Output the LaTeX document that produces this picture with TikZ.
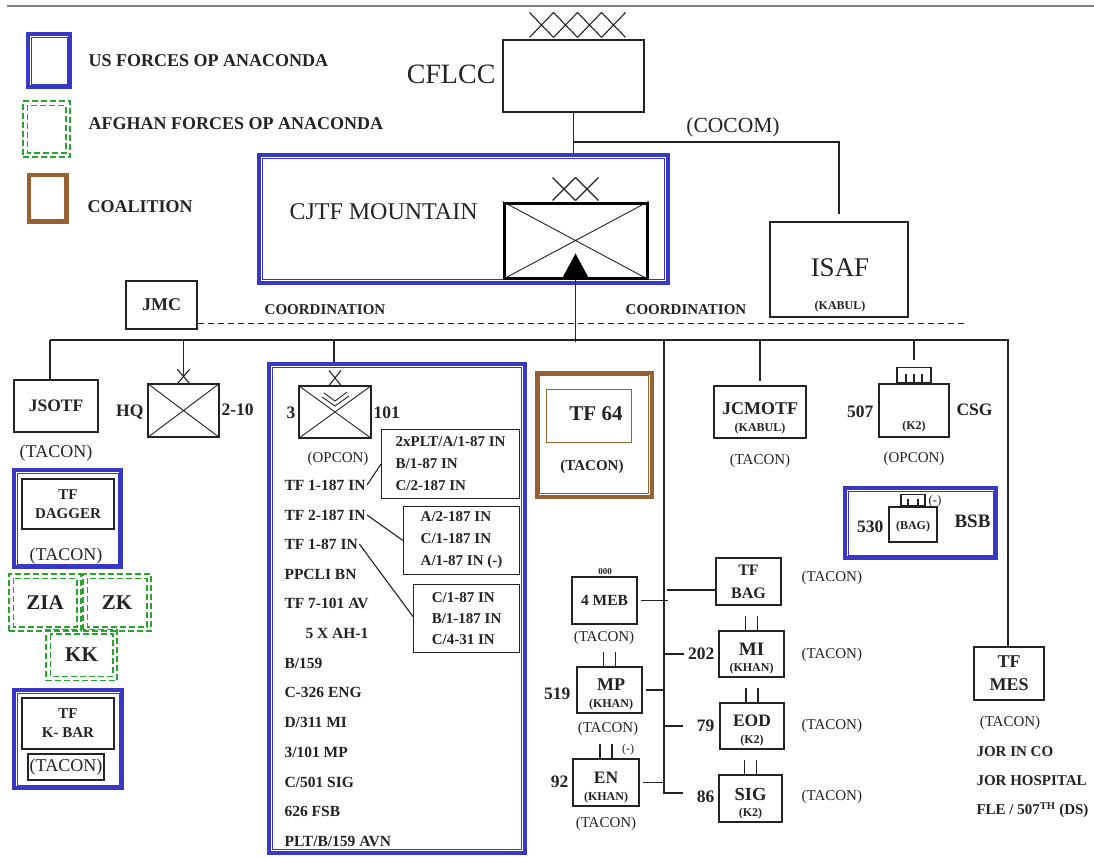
\documentclass[tikz,border=0pt]{standalone}
\usepackage{fontspec}
\setmainfont{Liberation Serif}
\usetikzlibrary{calc}
\definecolor{usblue}{RGB}{55,55,200}
\definecolor{afgreen}{RGB}{40,165,45}
\definecolor{cobrown}{RGB}{150,98,50}
\definecolor{ln}{RGB}{35,35,35}
\newcommand\fsz[2]{\fontsize{#1}{#2}\selectfont}
\newcommand\innerfr[3]{\draw[#1] ([shift={(#3,#3)}]#2.north west) rectangle ([shift={(-#3,-#3)}]#2.south east);}
\newcommand\xcross[1]{\draw[line width=0.9pt] (#1.north west) -- (#1.south east) (#1.south west) -- (#1.north east);}
\newcommand\ticks[1]{\draw ([xshift=-6pt]#1.north) -- ++(0,-14) ([xshift=6pt]#1.north) -- ++(0,-14);}
\tikzset{
  box/.style={draw=ln, line width=1.1pt, inner sep=0pt, align=center},
  usframe/.style={draw=usblue, line width=4.4pt, inner sep=0pt},
  afframe/.style={draw=afgreen, line width=1.5pt, dash pattern=on 6pt off 3pt, inner sep=0pt},
  coframe/.style={draw=cobrown, line width=4pt, inner sep=0pt},
  usin/.style={draw=usblue, line width=1pt},
  afin/.style={draw=afgreen, line width=1.5pt, dash pattern=on 6pt off 3pt},
  coin/.style={draw=cobrown, line width=1.2pt},
  legt/.style={inner sep=1pt, font=\bfseries\fsz{18}{20}},
  lab/.style={inner sep=1pt, font=\bfseries\fsz{15.5}{18}},
  num/.style={inner sep=1pt, font=\bfseries\fsz{17.5}{20}},
  big/.style={inner sep=1pt, font=\bfseries\fsz{19}{21}},
  sm/.style={inner sep=1pt, font=\bfseries\fsz{12}{14}},
  tac/.style={inner sep=1pt, font=\fsz{15}{17}},
  tacl/.style={inner sep=1pt, font=\fsz{18}{20}},
  wire/.style={draw=ln, line width=1.1pt}
}
\begin{document}
\begin{tikzpicture}[x=1pt,y=-1pt,line width=1.1pt,color=ln]
\useasboundingbox (0,0) rectangle (1094,857);
% top rule
\draw[line width=1.2pt, gray] (7,6) -- (1094,6);
% ---------------- legend
\node[usframe, minimum width=42, minimum height=53] (lgus) at (49,60.5) {};
\innerfr{usin}{lgus}{5.2}
\node[legt, anchor=west] (lgust) at (87,61) {US FORCES OP ANACONDA};
\node[afframe, minimum width=47, minimum height=56] (lgaf) at (46.5,129) {};
\innerfr{afin}{lgaf}{5}
\node[legt, anchor=west] (lgaft) at (87,124) {AFGHAN FORCES OP ANACONDA};
\node[coframe, minimum width=38, minimum height=47] (lgco) at (47.5,198) {};
\innerfr{coin}{lgco}{4}
\node[legt, anchor=west] (lgcot) at (86,207) {COALITION};
% ---------------- CFLCC
\node[box, minimum width=141, minimum height=72] (cflcc) at (573.5,76) {};
\foreach \i in {0,...,3} {
  \draw ($(cflcc.north)+(-44+24*\i,-2)$) -- ++(24,-25);
  \draw ($(cflcc.north)+(-44+24*\i,-27)$) -- ++(24,25);
}
\node[inner sep=1pt, font=\fsz{28}{30}, anchor=east] (cflcct) at (497,74) {CFLCC};
% ---------------- CJTF MOUNTAIN
\node[usframe, minimum width=409, minimum height=128] (cjtf) at (463.5,219) {};
\innerfr{usin}{cjtf}{5.5}
\node[inner sep=1pt, font=\fsz{24}{26}, anchor=west] (cjtft) at (288,212) {CJTF MOUNTAIN};
\node[draw=black, line width=3pt, minimum width=143, minimum height=75, inner sep=0pt] (cjtfsym) at (575.5,240.5) {};
\xcross{cjtfsym}
\fill[black] ($(cjtfsym.south)+(-14,0)$) -- ($(cjtfsym.south)+(0,-26)$) -- ($(cjtfsym.south)+(14,0)$) -- cycle;
\foreach \i in {0,1} {
  \draw ($(cjtfsym.north)+(-23+23*\i,-1)$) -- ++(23,-23);
  \draw ($(cjtfsym.north)+(-23+23*\i,-24)$) -- ++(23,23);
}
\draw[wire] (cflcc.south) -- (cflcc.south |- cjtf.north);
% ---------------- ISAF
\node[box, minimum width=138, minimum height=95] (isaf) at (839,269.5) {};
\node[inner sep=1pt, font=\fsz{27}{29}] (isaft) at (840,268) {ISAF};
\node[sm] (isafk) at (840,307) {(KABUL)};
\coordinate (cocomj) at (573.5,142);
\draw[wire] (cocomj) -| ([yshift=7pt]isaf.north);
\node[inner sep=1pt, font=\fsz{21.5}{23}] (cocom) at (733,127) {(COCOM)};
% ---------------- bus
\coordinate (busL) at (50,340);
\coordinate (busR) at (1008,340);
\draw[wire] (cjtfsym.south) -- ([yshift=-2pt]cjtfsym.south |- busL);
% ---------------- JMC and coordination
\node[box, minimum width=71, minimum height=48, font=\bfseries\fsz{18}{20}] (jmc) at (161.5,305) {JMC};
\draw[wire, dash pattern=on 6pt off 4pt] ([yshift=6pt]jmc.south east) -- ++(766,0);
\node[lab, font=\bfseries\fsz{15}{17}] (coord1) at (325,310) {COORDINATION};
\node[lab, font=\bfseries\fsz{15}{17}] (coord2) at (686,310) {COORDINATION};
% ---------------- JSOTF
\node[box, minimum width=84, minimum height=52, font=\bfseries\fsz{17.5}{20}] (jsotf) at (56,406) {JSOTF};
\node[tacl] (jsotft) at (56,453) {(TACON)};
% ---------------- HQ 2-10
\node[box, minimum width=71, minimum height=53] (hq) at (183.5,410.5) {};
\xcross{hq}
\draw ($(hq.north)+(-6,0)$) -- ++(12,-14) ($(hq.north)+(-6,-14)$) -- ++(12,14);
\node[num, anchor=east] (hqt) at (145,412) {HQ};
\node[num, anchor=west] (hq210) at (220,410) {2-10};
% ---------------- TF DAGGER
\node[usframe, minimum width=107, minimum height=97] (dagf) at (67.5,518.5) {};
\innerfr{usin}{dagf}{5.2}
\node[box, minimum width=92, minimum height=50, font=\bfseries\fsz{15}{19}] (dag) at (68,504) {TF\\DAGGER};
\node[tacl] (dagt) at (66,556) {(TACON)};
% ---------------- Afghan
\node[afframe, minimum width=72, minimum height=57, font=\bfseries\fsz{21}{23}] (zia) at (45,602.5) {ZIA};
\innerfr{afin}{zia}{5}
\node[afframe, minimum width=68, minimum height=57, font=\bfseries\fsz{21}{23}] (zk) at (117,602.5) {ZK};
\innerfr{afin}{zk}{5}
\node[afframe, minimum width=71, minimum height=51, font=\bfseries\fsz{21}{23}] (kk) at (81.5,655) {KK};
\innerfr{afin}{kk}{5}
% ---------------- TF K-BAR
\node[usframe, minimum width=108, minimum height=98] (kbarf) at (68,739) {};
\innerfr{usin}{kbarf}{5.2}
\node[box, minimum width=92, minimum height=51, font=\bfseries\fsz{15}{19}] (kbar) at (68,723.5) {TF\\K- BAR};
\node[box, minimum width=76, minimum height=26, font=\fsz{18}{20}] (kbart) at (66,767) {(TACON)};
% ---------------- 3/101
\node[usframe, minimum width=256, minimum height=489] (g3) at (397,608.5) {};
\innerfr{usin}{g3}{5.5}
\coordinate (b3) at (334,340);
\draw[wire] (b3) -- (b3 |- g3.north);
\node[box, minimum width=72, minimum height=52] (s3) at (335,412) {};
\xcross{s3}
\draw ($(s3.north)+(-6,0)$) -- ++(12,-15) ($(s3.north)+(-6,-15)$) -- ++(12,15);
\draw[line width=0.9pt] ($(s3.center)+(-13,-15)$) -- ($(s3.center)+(0,-6)$) -- ($(s3.center)+(14,-16)$);
\draw[line width=0.9pt] ($(s3.center)+(-11,-19)$) -- ($(s3.center)+(0,-11)$) -- ($(s3.center)+(12,-20)$);
\node[num, anchor=east] (s3l) at (297,413) {3};
\node[num, anchor=west] (s3r) at (372,413) {101};
\node[tac] (s3op) at (338,459) {(OPCON)};
\node[lab, anchor=west] (l1) at (283,485) {TF 1-187 IN};
\node[lab, anchor=west] (l2) at (283,515) {TF 2-187 IN};
\node[lab, anchor=west] (l3) at (283,544) {TF 1-87 IN};
\node[lab, anchor=west] (l4) at (283,574) {PPCLI BN};
\node[lab, anchor=west] (l5) at (283,603) {TF 7-101 AV};
\node[lab, anchor=west] (l6) at (304,633) {5 X AH-1};
\node[lab, anchor=west] (l7) at (283,663) {B/159};
\node[lab, anchor=west] (l8) at (283,692) {C-326 ENG};
\node[lab, anchor=west] (l9) at (283,722) {D/311 MI};
\node[lab, anchor=west] (l10) at (283,752) {3/101 MP};
\node[lab, anchor=west] (l11) at (283,782) {C/501 SIG};
\node[lab, anchor=west] (l12) at (283,811) {626 FSB};
\node[lab, anchor=west] (l13) at (283,841) {PLT/B/159 AVN};
\node[box, minimum width=138, minimum height=69, anchor=north west, align=left, font=\bfseries\fsz{15}{22}] (sb1) at (381,429) {2xPLT/A/1-87 IN\\B/1-87 IN\\C/2-187 IN};
\node[box, minimum width=116, minimum height=68, anchor=north west, align=left, font=\bfseries\fsz{15}{22}] (sb2) at (403,506) {A/2-187 IN\\C/1-187 IN\\A/1-87 IN (-)};
\node[box, minimum width=106, minimum height=68, anchor=north west, align=left, font=\bfseries\fsz{15}{21}] (sb3) at (413,584) {C/1-87 IN\\B/1-187 IN\\C/4-31 IN};
\draw[wire] (l1.east) -- (sb1.west);
\draw[wire] (l2.east) -- (sb2.west);
\draw[wire] (l3.east) -- ([yshift=2pt]sb3.west);
% ---------------- TF 64
\node[coframe, minimum width=115, minimum height=124] (tf64) at (594,434.5) {};
\innerfr{coin}{tf64}{5}
\node[draw=cobrown, line width=1pt, minimum width=85, minimum height=53, inner sep=0pt] (tf64in) at (588.5,415.5) {};
\node[inner sep=1pt, font=\bfseries\fsz{21}{23}] (tf64t) at (596,414) {TF 64};
\node[lab, font=\bfseries\fsz{15}{17}] (tf64tac) at (592,467) {(TACON)};
% ---------------- JCMOTF
\node[box, minimum width=92, minimum height=52] (jcm) at (760,412) {};
\node[inner sep=1pt, font=\bfseries\fsz{18}{20}] (jcmt) at (760,409) {JCMOTF};
\node[sm] (jcmk) at (760,429) {(KABUL)};
\draw[wire] (jcm.north |- busL) -- ([yshift=4pt]jcm.north);
\node[tac] (jcmtac) at (760,461) {(TACON)};
% ---------------- CSG
\node[box, minimum width=70, minimum height=53] (csg) at (914,410.5) {};
\node[box, minimum width=34, minimum height=15, anchor=south] (csgiii) at (csg.north) {};
\foreach \d in {-8,0,8} {\draw ($(csgiii.south)+(\d,0)$) -- ++(0,-9);}
\draw[wire] (csg.north |- busL) -- ([yshift=7pt]csgiii.north);
\node[sm] (csgk) at (914,427) {(K2)};
\node[num, anchor=east] (csgl) at (875,412) {507};
\node[num, anchor=west] (csgr) at (955,410) {CSG};
\node[tac] (csgop) at (914,459) {(OPCON)};
% ---------------- BSB
\node[usframe, minimum width=151, minimum height=70] (bsb) at (920.5,523) {};
\innerfr{usin}{bsb}{5.2}
\node[box, minimum width=48, minimum height=35] (bag) at (913,524.5) {};
\node[box, minimum width=24, minimum height=11, anchor=south] (bagii) at (bag.north) {};
\foreach \d in {-5,5} {\draw ($(bagii.south)+(\d,0)$) -- ++(0,-7);}
\node[sm] (bagt) at (913,527) {(BAG)};
\node[inner sep=1pt, font=\fsz{13}{15}] (bagm) at (935,501) {(-)};
\node[num, anchor=east] (bsbl) at (885,527) {530};
\node[num, font=\bfseries\fsz{19}{21}, anchor=west] (bsbr) at (953,521) {BSB};
% ---------------- TF MES
\node[box, minimum width=70, minimum height=53, font=\bfseries\fsz{18}{23}] (tfmes) at (1009,673.5) {TF\\MES};
\draw[wire] (busL) -- (busR) -- (busR |- tfmes.north);
\draw[wire] (busL) -- (busL |- jsotf.north);
\draw[wire] (hq.north |- busL) -- ($(hq.north)+(0,-8)$);
\node[tac] (tfmestac) at (1010,723) {(TACON)};
\node[lab, font=\bfseries\fsz{15}{17}, anchor=west] (jor1) at (975,752) {JOR IN CO};
\node[lab, font=\bfseries\fsz{15}{17}, anchor=west] (jor2) at (975,781) {JOR HOSPITAL};
\node[lab, font=\bfseries\fsz{15}{17}, anchor=west] (fle) at (975,810) {FLE / 507\textsuperscript{TH} (DS)};
% ---------------- 4 MEB group
\coordinate (sp0) at (664,340);
\coordinate (sp1) at (664,793);
\node[box, minimum width=65, minimum height=47, font=\bfseries\fsz{15.5}{18}] (meb) at (604.5,600.5) {4 MEB};
\node[inner sep=0pt, font=\bfseries\fsz{9}{10}] (mebo) at (605,572) {000};
\node[tac] (mebtac) at (604,638) {(TACON)};
\node[box, minimum width=65, minimum height=47, font=\bfseries\fsz{16}{23}] (tfbag) at (748.5,581.5) {TF\\BAG};
\node[tac, anchor=west] (tfbagtac) at (800,578) {(TACON)};
\node[box, minimum width=65, minimum height=46] (mi) at (751.5,654) {};
\node[big] (mit) at (751.5,649) {MI};
\node[sm] (mik) at (751.5,669) {(KHAN)};
\node[num, anchor=east] (l202) at (716,654) {202};
\node[tac, anchor=west] (mitac) at (800,655) {(TACON)};
\node[box, minimum width=65, minimum height=46] (mp) at (609.5,690) {};
\node[big, font=\bfseries\fsz{18}{20}] (mpt) at (611,685) {MP};
\node[sm] (mpk) at (611,705) {(KHAN)};
\node[num, anchor=east] (l519) at (572,694) {519};
\node[tac] (mptac) at (608,729) {(TACON)};
\node[box, minimum width=64, minimum height=46] (eod) at (752,726) {};
\node[big, font=\bfseries\fsz{17.5}{20}] (eodt) at (752,721) {EOD};
\node[sm] (eodk) at (752,741) {(K2)};
\node[num, anchor=east] (l79) at (716,726) {79};
\node[tac, anchor=west] (eodtac) at (800,726) {(TACON)};
\node[box, minimum width=66, minimum height=47] (en) at (606,782.5) {};
\node[big, font=\bfseries\fsz{17.5}{20}] (ent) at (606,778) {EN};
\node[sm] (enk) at (606,798) {(KHAN)};
\node[num, anchor=east] (l92) at (570,782) {92};
\node[inner sep=1pt, font=\fsz{12}{14}] (enm) at (628,750) {(-)};
\node[tac] (entac) at (606,824) {(TACON)};
\node[box, minimum width=63, minimum height=47] (sig) at (750.5,798.5) {};
\node[big, font=\bfseries\fsz{18.5}{20}] (sigt) at (750.5,794) {SIG};
\node[sm] (sigk) at (750.5,814) {(K2)};
\node[num, anchor=east] (l86) at (716,797) {86};
\node[tac, anchor=west] (sigtac) at (800,797) {(TACON)};
\ticks{mi}
\ticks{mp}
\ticks{eod}
\ticks{en}
\ticks{sig}
\draw[wire] (sp0) -- (sp1) -- ++(19,0);
\draw[wire] ([xshift=3pt]meb.east) -- ($(sp0 |- meb.east)+(4,0)$);
\draw[wire] ([yshift=-8.5pt]tfbag.west) -- ++(-48,0);
\draw[wire] (sp0 |- l202.west) -- ([xshift=-3pt]l202.west);
\draw[wire] ([xshift=3pt]mp.east) -- (sp0 |- mp.east);
\draw[wire] (sp0 |- l79.west) -- ([xshift=-12pt]l79.west);
\draw[wire] ([xshift=3pt]en.east) -- (sp0 |- en.east);
\end{tikzpicture}
\end{document}
